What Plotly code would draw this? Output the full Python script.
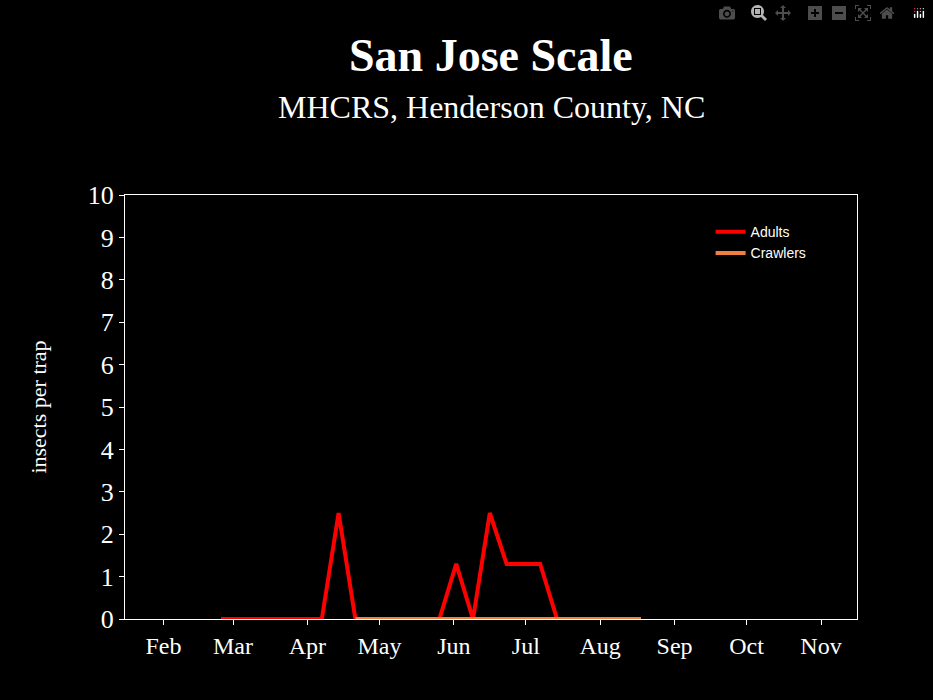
import plotly.graph_objects as go
import pandas as pd

dates = pd.date_range("2008-02-25", periods=26, freq="7D")
adults = [0,0,0,0,0,0,0,2.5,0,0,0,0,0,0,1.3,0,2.5,1.3,1.3,1.3,0,0,0,0,0,0]
crawler_dates = dates[8:]
crawlers = [0]*len(crawler_dates)
month_ticks = pd.date_range("2008-02-01", periods=10, freq="MS")
month_labels = ["Feb","Mar","Apr","May","Jun","Jul","Aug","Sep","Oct","Nov"]

fig = go.Figure()
fig.add_trace(go.Scatter(x=dates, y=adults, mode="lines", name="Adults",
                         line=dict(color="#ff0000", width=4)))
fig.add_trace(go.Scatter(x=crawler_dates, y=crawlers, mode="lines", name="Crawlers",
                         line=dict(color="#f08040", width=4)))
serif = "Liberation Serif, serif"
fig.add_annotation(text="<b>San Jose Scale</b>", xref="paper", yref="paper", x=0.5, y=1.0,
                   xanchor="center", yanchor="middle", yshift=140, showarrow=False,
                   font=dict(family=serif, size=46, color="white"))
fig.add_annotation(text="MHCRS, Henderson County, NC", xref="paper", yref="paper", x=0.5, y=1.0,
                   xanchor="center", yanchor="middle", yshift=88, showarrow=False,
                   font=dict(family=serif, size=32, color="white"))
fig.update_layout(
    width=933, height=700, paper_bgcolor="black", plot_bgcolor="black",
    margin=dict(l=125, r=76, t=195, b=81),
    legend=dict(x=0.8, y=0.95, xanchor="left", yanchor="top", bgcolor="rgba(0,0,0,0)",
                font=dict(family="Liberation Sans, Arial", size=14, color="white")),
    xaxis=dict(range=["2008-01-16", "2008-11-16"], tickvals=month_ticks, ticktext=month_labels,
               showgrid=False, showline=True, linecolor="white", mirror=True, linewidth=1,
               ticks="outside", tickcolor="white", ticklen=5, zeroline=False,
               tickfont=dict(family=serif, size=24, color="white")),
    yaxis=dict(range=[0, 10], dtick=1, showgrid=False, showline=True, linecolor="white",
               mirror=True, linewidth=1, ticks="outside", tickcolor="white", ticklen=5, zeroline=False,
               tickfont=dict(family=serif, size=26, color="white"),
               title=dict(text="insects per trap", font=dict(family=serif, size=22, color="white"), standoff=35)),
)
fig.write_html("out.html", post_script="document.body.style.margin='0';document.body.style.background='black';")
